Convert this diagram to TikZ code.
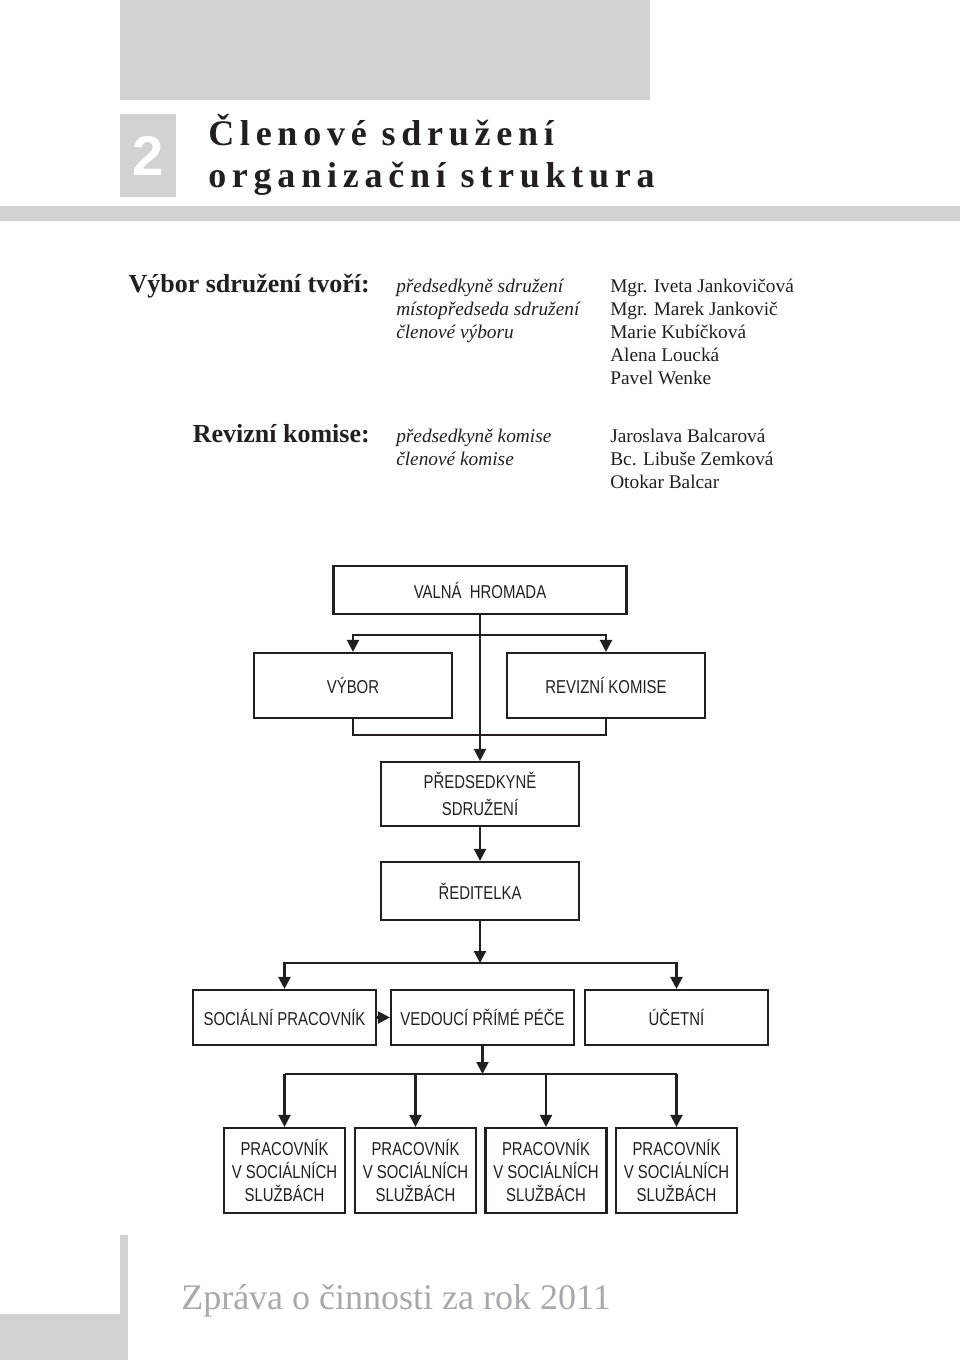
\documentclass[tikz,border=0pt]{standalone}
\usepackage{fontspec}
\setmainfont{Liberation Serif}
\newfontfamily\orgfont[FakeStretch=0.8]{Liberation Sans}
\newfontfamily\chapfont{Liberation Sans}
\newfontfamily\titlefont[LetterSpace=16]{Liberation Serif}
\usetikzlibrary{arrows.meta}
\definecolor{panelgray}{HTML}{D1D2D4}
\definecolor{inkgray}{HTML}{231F20}
\definecolor{footgray}{HTML}{A7A9AC}
\begin{document}
\begin{tikzpicture}[x=0.75pt, y=-0.75pt,
	box/.style={draw=inkgray, line width=1.6pt, inner sep=0pt, align=center, text=inkgray, font=\orgfont\fontsize{14}{17}\selectfont},
	link/.style={draw=inkgray, line width=1.6pt},
	arr/.style={link, -{Triangle[length=9pt, width=9pt]}},
	arrs/.style={link, {Triangle[length=9pt, width=9pt]}-{Triangle[length=9pt, width=9pt]}},
	label/.style={anchor=base east, inner sep=0pt, text=inkgray, font=\bfseries\fontsize{19.5}{23}\selectfont},
	role/.style={anchor=base west, inner sep=0pt, text=inkgray, font=\itshape\fontsize{14.5}{17}\selectfont},
	person/.style={anchor=base west, inner sep=0pt, text=inkgray, font=\fontsize{14.5}{17}\selectfont}]
	\useasboundingbox (0,0) rectangle (960,1360);
	\fill[white] (0,0) rectangle (960,1360);
	% header
	\fill[panelgray] (120,0) rectangle (650,100);
	\fill[panelgray] (120,114) rectangle (176,197);
	\node[text=white, font=\chapfont\bfseries\fontsize{42}{42}\selectfont] (chap) at (148,156) {2};
	\node[anchor=base west, inner sep=0pt, text=inkgray, font=\titlefont\bfseries\fontsize{27}{30}\selectfont] (title1) at (208,145) {Členové sdružení};
	\node[anchor=base west, inner sep=0pt, text=inkgray, font=\titlefont\bfseries\fontsize{27}{30}\selectfont] (title2) at (208,187) {organizační struktura};
	\fill[panelgray] (0,206) rectangle (960,221);
	% members
	\node[label] (lvybor) at (370,292) {Výbor sdružení tvoří:};
	\node[label] (lrevize) at (370,442) {Revizní komise:};
	\foreach \t [count=\i from 0] in {předsedkyně sdružení, místopředseda sdružení, členové výboru}
		\node[role] at (396,292+23*\i) {\t};
	\foreach \t [count=\i from 0] in {Mgr. Iveta Jankovičová, Mgr. Marek Jankovič, Marie Kubíčková, Alena Loucká, Pavel Wenke}
		\node[person] at (610,292+23*\i) {\t};
	\foreach \t [count=\i from 0] in {předsedkyně komise, členové komise}
		\node[role] at (396,442+23*\i) {\t};
	\foreach \t [count=\i from 0] in {Jaroslava Balcarová, Bc. Libuše Zemková, Otokar Balcar}
		\node[person] at (610,442+23*\i) {\t};
	% chart
	\node[box, minimum width=219.75pt, minimum height=36pt] (valna) at (480,590) {VALNÁ\ \ HROMADA};
	\node[box, minimum width=148.5pt, minimum height=48.75pt] (vybor) at (353,685.5) {VÝBOR};
	\node[box, minimum width=148.5pt, minimum height=48.75pt] (revize) at (606,685.5) {REVIZNÍ KOMISE};
	\node[box, minimum width=148.5pt, minimum height=48pt, font=\orgfont\fontsize{14}{20}\selectfont] (predseda) at (480,794) {PŘEDSEDKYNĚ\\SDRUŽENÍ};
	\node[box, minimum width=148.5pt, minimum height=43.5pt] (reditelka) at (480,891) {ŘEDITELKA};
	\node[box, minimum width=137.25pt, minimum height=41.25pt] (socialni) at (284.5,1017.5) {SOCIÁLNÍ PRACOVNÍK};
	\node[box, minimum width=137.25pt, minimum height=41.25pt] (vedouci) at (482.5,1017.5) {VEDOUCÍ PŘÍMÉ PÉČE};
	\node[box, minimum width=137.25pt, minimum height=41.25pt] (ucetni) at (676.5,1017.5) {ÚČETNÍ};
	\foreach \x [count=\i] in {284.5,415.5,546,676.5}
		\node[box, minimum width=90.75pt, minimum height=63.75pt] (prac\i) at (\x,1170.5) {PRACOVNÍK\\V SOCIÁLNÍCH\\SLUŽBÁCH};
	\coordinate (hv) at (480,635);
	\coordinate (hb) at (480,735);
	\coordinate (hr) at (480,963);
	\coordinate (hp) at (482.5,1074);
	\draw[arr] (valna) -- (predseda);
	\draw[arrs] (vybor.north) |- (hv) -| (revize.north);
	\draw[link] (vybor.south) |- (hb) -| (revize.south);
	\draw[arr] (predseda) -- (reditelka);
	\draw[arr] (reditelka) -- (hr);
	\draw[arrs] (socialni.north) |- (hr) -| (ucetni.north);
	\draw[arr] (socialni) -- (vedouci);
	\draw[arr] (vedouci) -- (hp);
	\draw[link] (prac1.north |- hp) -- (prac4.north |- hp);
	\foreach \i in {1,...,4}
		\draw[arr] (prac\i.north |- hp) -- (prac\i.north);
	% footer
	\fill[panelgray] (120,1235) rectangle (128,1360);
	\fill[panelgray] (0,1314) rectangle (128,1360);
	\node[anchor=base west, inner sep=0pt, text=footgray, font=\fontsize{27}{30}\selectfont] (foot) at (181,1309) {Zpráva o činnosti za rok 2011};
\end{tikzpicture}
\end{document}
